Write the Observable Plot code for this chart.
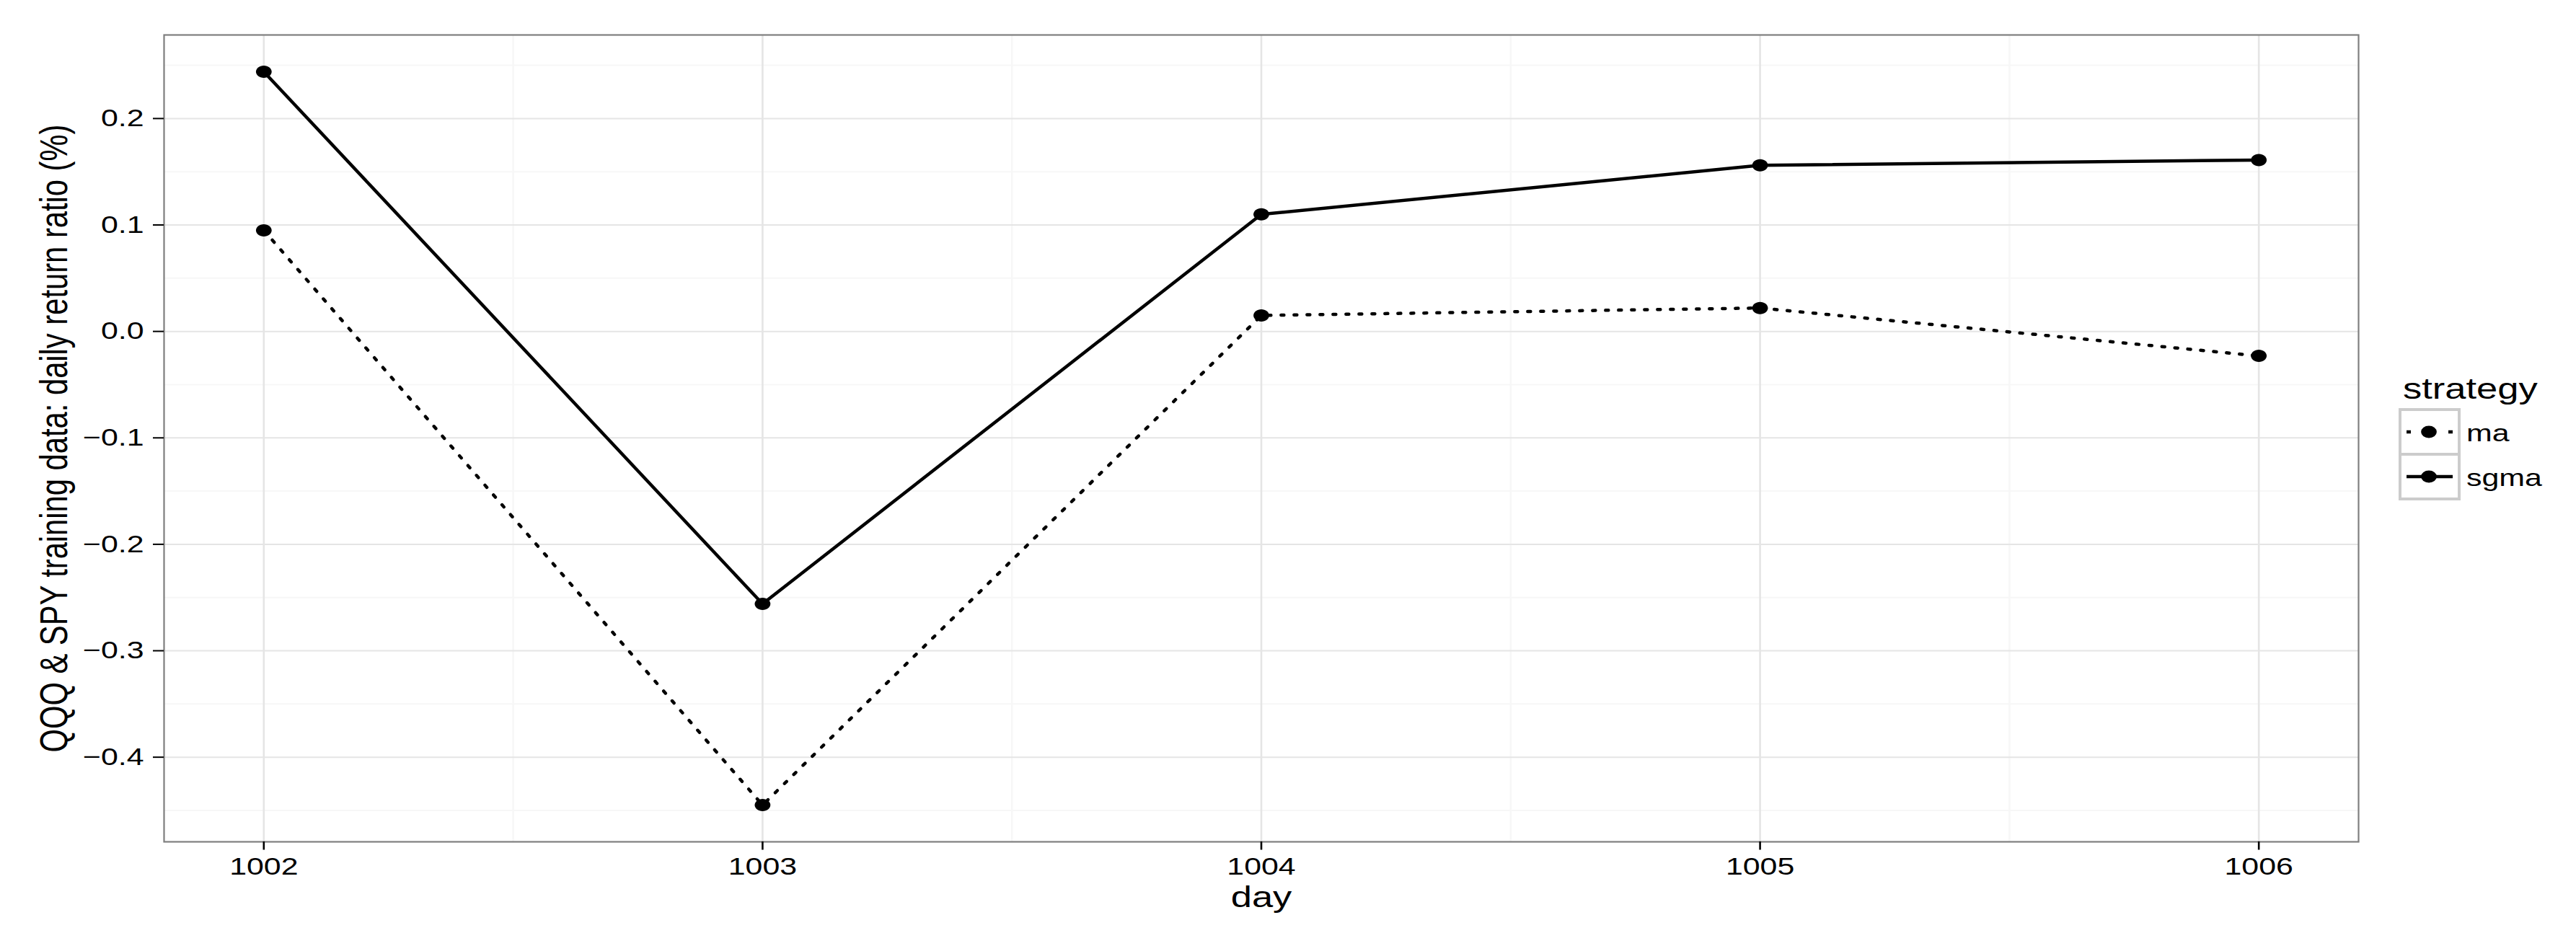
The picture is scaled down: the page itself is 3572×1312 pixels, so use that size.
<!DOCTYPE html>
<html>
<head>
<meta charset="utf-8">
<script src="https://cdn.jsdelivr.net/npm/d3@7"></script>
<script src="https://cdn.jsdelivr.net/npm/@observablehq/plot@0.6"></script>
<style>
  body { margin: 0; background: white; }
  #chart01 svg { display: block; }
</style>
</head>
<body>
<div id="chart01"></div>
<script>
const days = [1002, 1003, 1004, 1005, 1006]
const maReturns = [0.095, -0.445, 0.015, 0.022, -0.023]
const sgmaReturns = [0.244, -0.256, 0.110, 0.156, 0.161]
const strategies = ['ma', 'sgma']
const yTicks = [-0.4, -0.3, -0.2, -0.1, 0.0, 0.1, 0.2]
const yMinor = [-0.45, -0.35, -0.25, -0.15, -0.05, 0.05, 0.15, 0.25]
const xMinor = [1002.5, 1003.5, 1004.5, 1005.5]
const yTitle = 'QQQ & SPY training data: daily return ratio (%)'

const maRows = days.map((d, i) => ({day: d, value: maReturns[i]}))
const sgmaRows = days.map((d, i) => ({day: d, value: sgmaReturns[i]}))

// the reference is a picture stretched sideways: wide text, oval points
const stretch = 1.28
const oval = {
  draw(ctx, size) {
    let ry = Math.sqrt(size / Math.PI), rx = ry * stretch, k = 0.5523
    ctx.moveTo(rx, 0)
    ctx.bezierCurveTo(rx, ry * k, rx * k, ry, 0, ry)
    ctx.bezierCurveTo(-rx * k, ry, -rx, ry * k, -rx, 0)
    ctx.bezierCurveTo(-rx, -ry * k, -rx * k, -ry, 0, -ry)
    ctx.bezierCurveTo(rx * k, -ry, rx, -ry * k, rx, 0)
    ctx.closePath()
  }
}

let chart = Plot.plot({
  width: 3572,
  height: 1312,
  marginTop: 48,
  marginBottom: 145,
  marginLeft: 227,
  marginRight: 302,
  style: {fontFamily: 'Liberation Sans, Arial, sans-serif', color: 'black', background: 'white'},
  x: {domain: [1001.8, 1006.2]},
  y: {domain: [-0.4795, 0.2785]},
  marks: [
    Plot.gridX(xMinor, {stroke: '#f7f7f7', strokeOpacity: 1, strokeWidth: 2.6}),
    Plot.gridY(yMinor, {stroke: '#f7f7f7', strokeOpacity: 1, strokeWidth: 2}),
    Plot.gridX(days, {stroke: '#e5e5e5', strokeOpacity: 1, strokeWidth: 2.6}),
    Plot.gridY(yTicks, {stroke: '#e5e5e5', strokeOpacity: 1, strokeWidth: 2}),
    Plot.line(maRows, {x: 'day', y: 'value', stroke: 'black', strokeWidth: 4.5, strokeDasharray: '4,14'}),
    Plot.line(sgmaRows, {x: 'day', y: 'value', stroke: 'black', strokeWidth: 4.5}),
    Plot.dot(maRows, {x: 'day', y: 'value', r: 8.5, fill: 'black', symbol: oval}),
    Plot.dot(sgmaRows, {x: 'day', y: 'value', r: 8.5, fill: 'black', symbol: oval}),
    Plot.frame({stroke: '#7f7f7f', strokeWidth: 2.2}),
    Plot.axisX(days, {
      tickSize: 11.5, tickPadding: 10, fontSize: 33.5, stroke: 'black', strokeWidth: 2.6,
      tickFormat: d3.format('d'), label: null
    }),
    Plot.axisY(yTicks, {
      tickSize: 15, tickPadding: 13, fontSize: 33.5, stroke: 'black', strokeWidth: 2,
      tickFormat: d3.format('.1f'), label: null
    }),
    Plot.text(['day'], {
      text: d => d, frameAnchor: 'bottom', dy: 90, lineAnchor: 'bottom', fontSize: 41, fill: 'black'
    }),
    Plot.text([yTitle], {
      text: d => d, frameAnchor: 'left', textAnchor: 'middle', rotate: -90, dx: -135,
      lineAnchor: 'bottom', fontSize: 54, fill: 'black'
    })
  ]
})

// legend
let legend = d3.select(chart).append('g')
  .attr('font-family', 'Liberation Sans, Arial, sans-serif')
  .attr('text-anchor', 'start')
legend.append('text').attr('x', 3332).attr('y', 553).attr('font-size', 41).attr('fill', 'black').text('strategy')
strategies.forEach((s, i) => {
  let y0 = 568 + i * 62
  legend.append('rect').attr('x', 3328).attr('y', y0).attr('width', 82).attr('height', 62)
    .attr('fill', 'white').attr('stroke', '#cccccc').attr('stroke-width', 4)
  legend.append('line').attr('x1', 3337).attr('x2', 3401).attr('y1', y0 + 31).attr('y2', y0 + 31)
    .attr('stroke', 'black').attr('stroke-width', 4.5)
    .attr('stroke-dasharray', s == 'ma' ? '6,52' : null)
  legend.append('ellipse').attr('cx', 3368).attr('cy', y0 + 31).attr('rx', 8.5 * stretch).attr('ry', 8.5)
    .attr('fill', 'black')
  legend.append('text').attr('x', 3420).attr('y', y0 + 44).attr('font-size', 33.5).attr('fill', 'black').text(s)
})

d3.select('#chart01').append(() => chart)

// widen the letters like the picture, and squeeze the rotated title to its length
d3.select(chart).selectAll('text').each(function () {
  let len = this.textContent == yTitle ? 871 : this.getComputedTextLength() * stretch
  this.setAttribute('textLength', len)
  this.setAttribute('lengthAdjust', 'spacingAndGlyphs')
})
</script>
</body>
</html>
